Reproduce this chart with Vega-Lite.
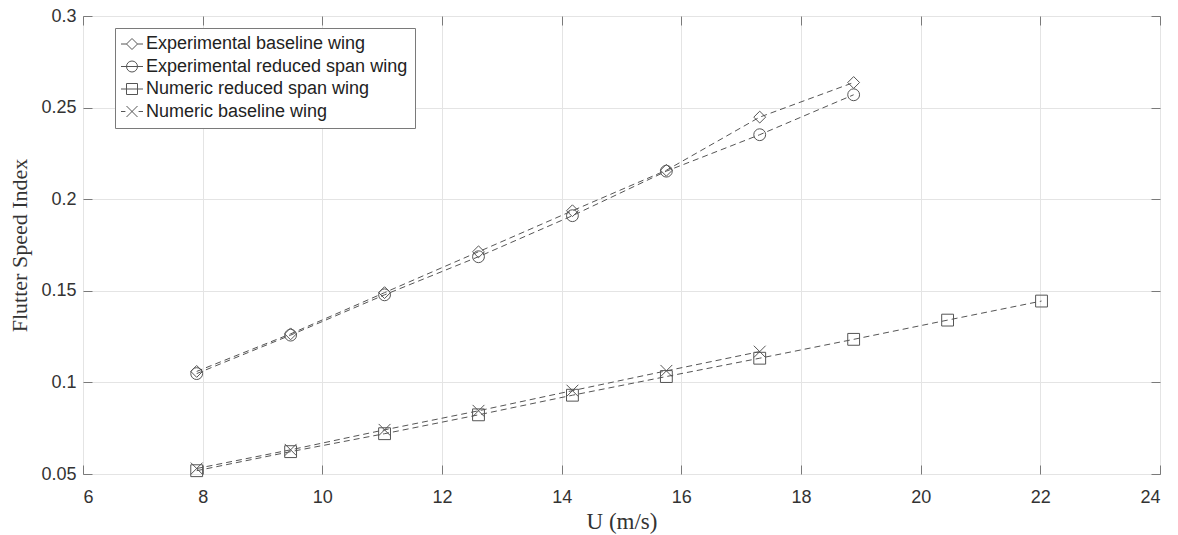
{
  "$schema": "https://vega.github.io/schema/vega-lite/v6.json",
  "width": 1077,
  "height": 458,
  "autosize": {"type": "none"},
  "padding": {"left": 83, "top": 16, "right": 18, "bottom": 61},
  "background": "white",
  "config": {
    "view": {"stroke": "#7a7a7a", "strokeWidth": 1},
    "axis": {
      "labelFont": "Liberation Sans",
      "labelFontSize": 18,
      "labelColor": "#333333",
      "titleFont": "Liberation Serif",
      "titleFontSize": 22,
      "titleFontWeight": "normal",
      "titleColor": "#333333",
      "tickColor": "#7a7a7a",
      "tickSize": -9,
      "domain": false,
      "gridColor": "#e4e4e4",
      "gridWidth": 1
    },
    "legend": {
      "labelFont": "Liberation Sans",
      "labelFontSize": 18,
      "labelColor": "#222222",
      "labelLimit": 400
    }
  },
  "data": {
    "values": [
      {"series": "Experimental baseline wing", "U": 7.9, "FSI": 0.106},
      {"series": "Experimental baseline wing", "U": 9.47, "FSI": 0.1265},
      {"series": "Experimental baseline wing", "U": 11.04, "FSI": 0.149},
      {"series": "Experimental baseline wing", "U": 12.61, "FSI": 0.1713},
      {"series": "Experimental baseline wing", "U": 14.18, "FSI": 0.1937},
      {"series": "Experimental baseline wing", "U": 15.75, "FSI": 0.2158},
      {"series": "Experimental baseline wing", "U": 17.31, "FSI": 0.2448},
      {"series": "Experimental baseline wing", "U": 18.88, "FSI": 0.2637},
      {"series": "Experimental reduced span wing", "U": 7.9, "FSI": 0.1048},
      {"series": "Experimental reduced span wing", "U": 9.47, "FSI": 0.1258},
      {"series": "Experimental reduced span wing", "U": 11.04, "FSI": 0.1478},
      {"series": "Experimental reduced span wing", "U": 12.61, "FSI": 0.1686},
      {"series": "Experimental reduced span wing", "U": 14.18, "FSI": 0.191},
      {"series": "Experimental reduced span wing", "U": 15.75, "FSI": 0.2153},
      {"series": "Experimental reduced span wing", "U": 17.31, "FSI": 0.2352},
      {"series": "Experimental reduced span wing", "U": 18.88, "FSI": 0.257},
      {"series": "Numeric reduced span wing", "U": 7.9, "FSI": 0.0518},
      {"series": "Numeric reduced span wing", "U": 9.47, "FSI": 0.0622},
      {"series": "Numeric reduced span wing", "U": 11.04, "FSI": 0.072},
      {"series": "Numeric reduced span wing", "U": 12.61, "FSI": 0.0823},
      {"series": "Numeric reduced span wing", "U": 14.18, "FSI": 0.093},
      {"series": "Numeric reduced span wing", "U": 15.75, "FSI": 0.1032},
      {"series": "Numeric reduced span wing", "U": 17.31, "FSI": 0.1132},
      {"series": "Numeric reduced span wing", "U": 18.88, "FSI": 0.1235},
      {"series": "Numeric reduced span wing", "U": 20.45, "FSI": 0.134},
      {"series": "Numeric reduced span wing", "U": 22.02, "FSI": 0.1444},
      {"series": "Numeric baseline wing", "U": 7.9, "FSI": 0.053},
      {"series": "Numeric baseline wing", "U": 9.47, "FSI": 0.0632},
      {"series": "Numeric baseline wing", "U": 11.04, "FSI": 0.0741},
      {"series": "Numeric baseline wing", "U": 12.61, "FSI": 0.0845},
      {"series": "Numeric baseline wing", "U": 14.18, "FSI": 0.0955},
      {"series": "Numeric baseline wing", "U": 15.75, "FSI": 0.1063},
      {"series": "Numeric baseline wing", "U": 17.31, "FSI": 0.1168}
    ]
  },
  "layer": [
    {
      "mark": {"type": "line", "color": "#555555", "strokeWidth": 1, "strokeDash": [6, 4]},
      "encoding": {
        "x": {
          "field": "U", "type": "quantitative",
          "scale": {"domain": [6, 24], "nice": false, "zero": false},
          "axis": {
            "orient": "bottom", "title": "U (m/s)",
            "values": [6, 8, 10, 12, 14, 16, 18, 20, 22, 24],
            "format": "~g", "grid": true,
            "labelPadding": 23, "titlePadding": 4, "titleFontSize": 23
          }
        },
        "y": {
          "field": "FSI", "type": "quantitative",
          "scale": {"domain": [0.05, 0.3], "nice": false, "zero": false},
          "axis": {
            "orient": "left", "title": "Flutter Speed Index",
            "values": [0.05, 0.1, 0.15, 0.2, 0.25, 0.3],
            "format": "~g", "grid": true,
            "labelPadding": 16, "titlePadding": 9
          }
        },
        "detail": {"field": "series", "type": "nominal"}
      }
    },
    {
      "mark": {"type": "point", "filled": false, "color": "#555555", "strokeWidth": 1, "opacity": 1, "size": 140},
      "encoding": {
        "x": {
          "field": "U", "type": "quantitative",
          "axis": {
            "orient": "top", "title": null, "labels": false, "grid": false,
            "values": [6, 8, 10, 12, 14, 16, 18, 20, 22, 24]
          }
        },
        "y": {
          "field": "FSI", "type": "quantitative",
          "axis": {
            "orient": "right", "title": null, "labels": false, "grid": false,
            "values": [0.05, 0.1, 0.15, 0.2, 0.25, 0.3]
          }
        },
        "shape": {
          "field": "series", "type": "nominal",
          "scale": {
            "domain": ["Experimental baseline wing", "Experimental reduced span wing", "Numeric reduced span wing", "Numeric baseline wing"],
            "range": ["diamond", "circle", "square", "M-1,-1L1,1M-1,1L1,-1"]
          },
          "legend": null
        }
      }
    },
    {
      "mark": {"type": "point", "filled": false, "color": "#555555", "strokeWidth": 1, "opacity": 0, "size": 121},
      "encoding": {
        "x": {"field": "U", "type": "quantitative", "axis": null},
        "y": {"field": "FSI", "type": "quantitative", "axis": null},
        "shape": {
          "field": "series", "type": "nominal",
          "scale": {
            "domain": ["Experimental baseline wing", "Experimental reduced span wing", "Numeric reduced span wing", "Numeric baseline wing"],
            "range": [
              "M-2,0H-1M1,0H2M-1,0L0,-1L1,0L0,1Z",
              "M-2,0H2M1,0A1,1,0,1,1,-1,0A1,1,0,1,1,1,0",
              "M-2,0H2M-1,-1H1V1H-1Z",
              "M-2,0H-1.2M1.2,0H2M-1,-1L1,1M-1,1L1,-1"
            ]
          },
          "legend": {
            "title": null,
            "orient": "none",
            "legendX": 32,
            "legendY": 12,
            "padding": 7,
            "rowPadding": 4.5,
            "symbolSize": 121,
            "symbolOpacity": 1,
            "symbolStrokeColor": "#555555",
            "symbolFillColor": "transparent",
            "symbolStrokeWidth": 1,
            "symbolOffset": 1,
            "labelOffset": 5,
            "strokeColor": "#7a7a7a",
            "fillColor": "white"
          }
        }
      }
    }
  ],
  "resolve": {
    "axis": {"x": "independent", "y": "independent"},
    "scale": {"shape": "independent"}
  }
}
